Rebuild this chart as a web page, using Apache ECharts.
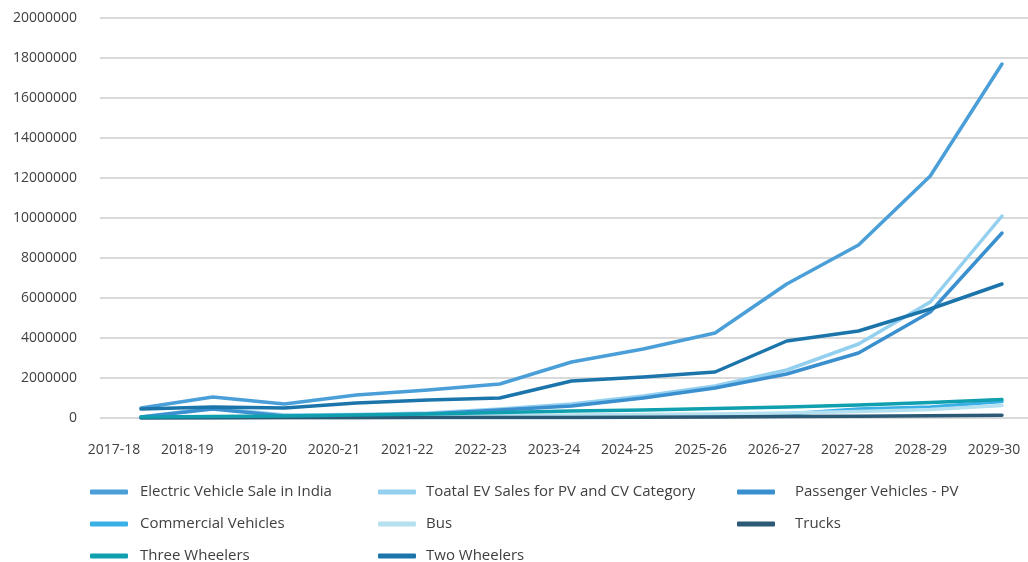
<!DOCTYPE html>
<html lang="en">
<head>
    <meta charset="UTF-8">
    <title>Electric Vehicle Sale in India</title>
    <script src="https://cdn.jsdelivr.net/npm/echarts@6/dist/echarts.min.js"></script>
    <style>
        html, body { margin: 0; padding: 0; background: #fff; }
        #main { width: 1028px; height: 562px; }
    </style>
</head>
<body>
<div id="main"></div>

<script type="text/javascript">
    // categories
    var years = ['2017-18', '2018-19', '2019-20', '2020-21', '2021-22', '2022-23', '2023-24',
        '2024-25', '2025-26', '2026-27', '2027-28', '2028-29', '2029-30'];

    // series values (units)
    var evSale = [500000, 1050000, 700000, 1150000, 1400000, 1700000, 2800000, 3450000, 4250000, 6700000, 8650000, 12100000, 17700000];
    var totalPvCv = [50000, 500000, 150000, 170000, 250000, 450000, 700000, 1100000, 1600000, 2400000, 3700000, 5800000, 10100000];
    var passenger = [50000, 450000, 100000, 120000, 200000, 400000, 600000, 1000000, 1500000, 2200000, 3250000, 5300000, 9250000];
    var commercial = [0, 50000, 50000, 50000, 50000, 50000, 100000, 100000, 150000, 200000, 450000, 550000, 820000];
    var bus = [10000, 30000, 50000, 70000, 100000, 120000, 150000, 170000, 200000, 250000, 320000, 420000, 620000];
    var trucks = [0, 0, 10000, 10000, 20000, 20000, 30000, 40000, 50000, 70000, 90000, 110000, 140000];
    var threeW = [50000, 80000, 100000, 150000, 200000, 280000, 350000, 400000, 480000, 550000, 650000, 780000, 920000];
    var twoW = [450000, 550000, 500000, 750000, 900000, 1000000, 1850000, 2050000, 2300000, 3850000, 4350000, 5450000, 6700000];

    // y axis ticks
    var yMin = 0;
    var yMax = 20000000;
    var yStep = 2000000;

    var names = ['Electric Vehicle Sale in India', 'Toatal EV Sales for PV and CV Category', 'Passenger Vehicles - PV',
        'Commercial Vehicles', 'Bus', 'Trucks', 'Three Wheelers', 'Two Wheelers'];
    var values = [evSale, totalPvCv, passenger, commercial, bus, trucks, threeW, twoW];
    var colors = ['#4a9fd8', '#93d0f0', '#3a8fcf', '#3bb0e6', '#b4e0ef', '#2b5a77', '#0f9fae', '#1b75ab'];

    var chart = echarts.init(document.getElementById('main'));
    var font = "'Open Sans', 'Noto Sans', sans-serif";

    var series = [];
    for (var i = 0; i < names.length; i++) {
        series.push({
            name: names[i],
            type: 'line',
            xAxisIndex: 2,
            yAxisIndex: 2,
            data: values[i],
            symbol: 'none',
            color: colors[i],
            lineStyle: { width: 3.5, color: colors[i], cap: 'round', join: 'round' }
        });
    }

    // legend: 3 columns, one legend per item so the columns line up
    var legCols = [90, 378, 737];
    var legTextGap = [7, 5, 15];
    var legRows = [483, 515, 547];
    var legends = [];
    for (var k = 0; k < names.length; k++) {
        legends.push({
            left: legCols[k % 3],
            top: legRows[Math.floor(k / 3)],
            padding: 0,
            data: [names[k]],
            icon: 'roundRect',
            itemWidth: 38,
            itemHeight: 5,
            textStyle: {
                fontSize: 15, color: '#404040', fontFamily: font, lineHeight: 18,
                padding: [0, 0, 0, legTextGap[k % 3]]
            }
        });
    }

    var option = {
        animation: false,
        backgroundColor: '#fff',
        textStyle: { fontFamily: font },
        legend: legends,
        grid: [
            { left: 100, right: 0, top: 18, height: 400 },   // gridlines + y labels
            { left: 114, right: 34, top: 18, height: 400 },  // x labels
            { left: 141, right: 26, top: 18, height: 400 }   // lines
        ],
        xAxis: [
            { gridIndex: 0, type: 'category', data: years, show: false },
            {
                gridIndex: 1, type: 'category', data: years, boundaryGap: false,
                axisLine: { show: false }, axisTick: { show: false },
                axisLabel: { interval: 0, fontSize: 14, color: '#404040', margin: 25, fontFamily: font }
            },
            { gridIndex: 2, type: 'category', data: years, boundaryGap: false, show: false }
        ],
        yAxis: [
            {
                gridIndex: 0, type: 'value', min: yMin, max: yMax, interval: yStep,
                axisLine: { show: false }, axisTick: { show: false },
                axisLabel: {
                    fontSize: 14, color: '#404040', margin: 23, fontFamily: font,
                    formatter: function (v) { return String(v); }
                },
                splitLine: { lineStyle: { color: '#d9d9d9', width: 2 } }
            },
            { gridIndex: 1, type: 'value', min: yMin, max: yMax, show: false, splitLine: { show: false } },
            { gridIndex: 2, type: 'value', min: yMin, max: yMax, show: false, splitLine: { show: false } }
        ],
        series: series
    };
    chart.setOption(option);
</script>
</body>
</html>
